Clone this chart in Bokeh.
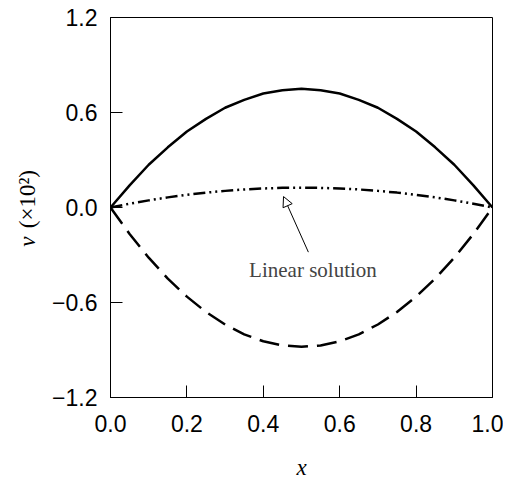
import math
from bokeh.plotting import figure
from bokeh.layouts import row
from bokeh.models import FixedTicker, Label, Arrow, NormalHead
from bokeh.core.properties import value
from bokeh.embed import file_html
from bokeh.resources import INLINE

x_vals = [0.0, 0.05, 0.1, 0.15, 0.2, 0.25, 0.3, 0.35, 0.4, 0.45, 0.5,
          0.55, 0.6, 0.65, 0.7, 0.75, 0.8, 0.85, 0.9, 0.95, 1.0]
solid_v = [0.0, 0.14, 0.27, 0.38, 0.48, 0.56, 0.63, 0.68, 0.72, 0.74, 0.75,
           0.74, 0.72, 0.68, 0.63, 0.56, 0.48, 0.38, 0.27, 0.14, 0.0]
dashed_v = [0.0, -0.167, -0.317, -0.449, -0.563, -0.66, -0.739, -0.801, -0.845, -0.871, -0.88,
            -0.871, -0.845, -0.801, -0.739, -0.66, -0.563, -0.449, -0.317, -0.167, 0.0]
linear_v = [0.0, 0.024, 0.045, 0.064, 0.08, 0.094, 0.105, 0.114, 0.12, 0.124, 0.125,
            0.124, 0.12, 0.114, 0.105, 0.094, 0.08, 0.064, 0.045, 0.024, 0.0]

x_ticks = [0.0, 0.2, 0.4, 0.6, 0.8, 1.0]
x_tick_labels = ["0.0", "0.2", "0.4", "0.6", "0.8", "1.0"]
y_ticks = [-1.2, -0.6, 0.0, 0.6, 1.2]
y_tick_labels = ["\u22121.2", "\u22120.6", "0.0", "0.6", "1.2"]

TOP, BOT = 17, 82
H = TOP + 383 + BOT
LW = 48  # width of the strip holding the y-axis title

# main plot
p = figure(width=(110 - LW) + 382 + 11, height=H, output_backend="svg", toolbar_location=None,
           x_range=(0, 1), y_range=(-1.2, 1.2),
           min_border_left=110 - LW, min_border_right=11, min_border_top=TOP, min_border_bottom=BOT)
p.grid.visible = False
p.outline_line_color = "black"
p.outline_line_width = 1
p.background_fill_color = "white"
p.border_fill_color = "white"

p.xaxis.ticker = FixedTicker(ticks=x_ticks)
p.xaxis.major_label_overrides = {t: l for t, l in zip(x_ticks, x_tick_labels)}
p.yaxis.ticker = FixedTicker(ticks=y_ticks)
p.yaxis.major_label_overrides = {t: l for t, l in zip(y_ticks, y_tick_labels)}
for ax in (p.xaxis, p.yaxis):
    ax.major_tick_in = 12
    ax.major_tick_out = 0
    ax.minor_tick_line_color = None
    ax.axis_line_color = "black"
    ax.major_tick_line_color = "black"
    ax.major_label_text_font = "Liberation Sans"
    ax.major_label_text_font_size = "23px"
    ax.major_label_text_color = "black"
p.xaxis.major_label_standoff = 17
p.yaxis.major_label_standoff = 13

p.xaxis.axis_label = "x"
p.xaxis.axis_label_text_font = "Liberation Serif"
p.xaxis.axis_label_text_font_style = "italic"
p.xaxis.axis_label_text_font_size = "23px"
p.xaxis.axis_label_text_color = "black"
p.xaxis.axis_label_standoff = 20

p.line(x_vals, solid_v, line_color="black", line_width=2.5)
p.line(x_vals, dashed_v, line_color="black", line_width=2.5, line_dash="20 9")
p.line(x_vals, linear_v, line_color="black", line_width=2.5, line_dash="12 4 2 4 2 4")

p.add_layout(Arrow(end=NormalHead(size=10, fill_color="white", line_color="black", line_width=1),
                   x_start=0.518, y_start=-0.282, x_end=0.453, y_end=0.069,
                   line_color="black", line_width=1))
p.add_layout(Label(x=0.53, y=-0.395, text="Linear solution", text_font="Liberation Serif",
                   text_font_size="21px", text_align="center", text_baseline="middle"))

# strip on the left carrying the y-axis title (italic v + upright rest); shares the y scale
t = figure(width=LW, height=H, output_backend="svg", toolbar_location=None,
           x_range=(0, LW), y_range=p.y_range, x_axis_type=None, y_axis_type=None,
           min_border_left=0, min_border_right=0, min_border_top=TOP, min_border_bottom=BOT)
t.grid.visible = False
t.outline_line_color = None
t.border_fill_color = "white"
t.background_fill_color = "white"
t.text(x=[27], y=[-0.216], text=["v"], angle=math.pi / 2, text_align="center",
       text_baseline="middle", text_font=value("Liberation Serif"), text_font_style="italic",
       text_font_size="23px", text_color="black")
t.text(x=[27], y=[0.053], text=["(\u00d710\u00b2)"], angle=math.pi / 2, text_align="center",
       text_baseline="middle", text_font=value("Liberation Serif"),
       text_font_size="23px", text_color="black")

layout = row(t, p, spacing=0)
open("out.html", "w").write(file_html(layout, INLINE))
